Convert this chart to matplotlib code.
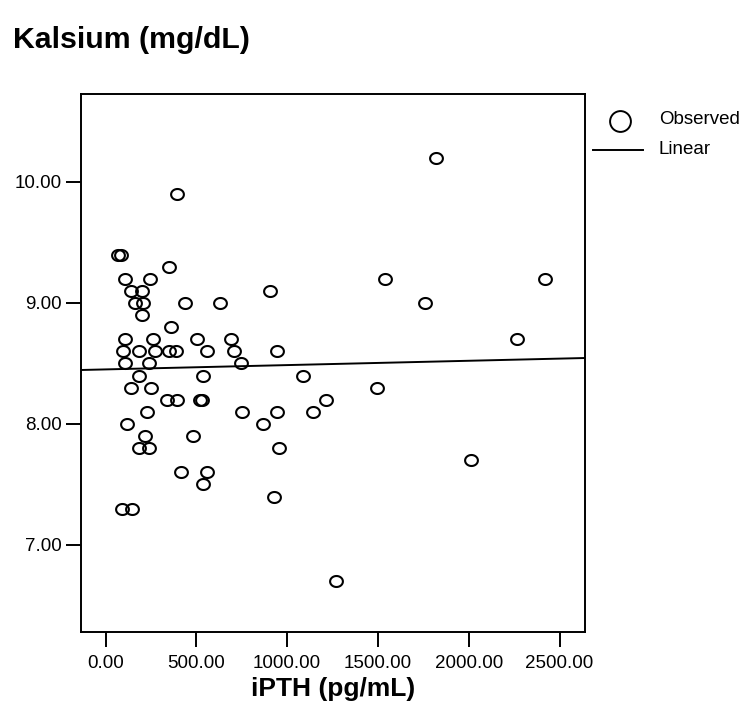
import matplotlib
matplotlib.use("Agg")
import matplotlib.pyplot as plt
from matplotlib.lines import Line2D
from matplotlib.path import Path
import numpy as np

plt.rcParams['font.family'] = ['Liberation Sans', 'DejaVu Sans']

# Observed data: iPTH (pg/mL) and Kalsium (mg/dL)
ipth = [68, 86, 396, 1822, 349,
        108, 246, 1540, 2421,
        141, 200, 905,
        160, 209, 439, 628, 1760,
        202, 362,
        108, 264, 505, 692, 2267,
        95, 187, 275, 352, 389, 560, 710, 942,
        108, 239, 747,
        182, 536, 1087,
        141, 253, 1494,
        338, 395, 521, 530, 1215,
        231, 751, 942, 1142,
        116, 868,
        215, 483,
        187, 242, 954,
        2014,
        417, 560,
        538, 925,
        88, 145,
        1270]
kalsium = [9.4, 9.4, 9.9, 10.2, 9.3,
           9.2, 9.2, 9.2, 9.2,
           9.1, 9.1, 9.1,
           9.0, 9.0, 9.0, 9.0, 9.0,
           8.9, 8.8,
           8.7, 8.7, 8.7, 8.7, 8.7,
           8.6, 8.6, 8.6, 8.6, 8.6, 8.6, 8.6, 8.6,
           8.5, 8.5, 8.5,
           8.4, 8.4, 8.4,
           8.3, 8.3, 8.3,
           8.2, 8.2, 8.2, 8.2, 8.2,
           8.1, 8.1, 8.1, 8.1,
           8.0, 8.0,
           7.9, 7.9,
           7.8, 7.8, 7.8,
           7.7,
           7.6, 7.6,
           7.5, 7.4,
           7.3, 7.3,
           6.7]

# Linear fit
fit_intercept = 8.451
fit_slope = 0.0000357

xticks = [0, 500, 1000, 1500, 2000, 2500]
yticks = [7, 8, 9, 10]
xlim = (-135, 2640)
ylim = (6.281, 10.727)

# Elliptical marker (slightly wider than tall)
_t = np.linspace(0, 2 * np.pi, 60)
ellipse_marker = Path(np.column_stack([np.cos(_t), 0.86 * np.sin(_t)]), closed=True)

W, H = 746, 712
fig = plt.figure(figsize=(W / 100, H / 100), dpi=100)
ax = fig.add_axes([81 / W, 1 - 632 / H, (585 - 81) / W, (632 - 94) / H])

ax.plot(ipth, kalsium, linestyle='none', marker=ellipse_marker, markersize=9.2,
        markerfacecolor='none', markeredgecolor='black', markeredgewidth=1.5)

lx = np.array(xlim)
ax.plot(lx, fit_intercept + fit_slope * lx, color='black', linewidth=1.4)

ax.set_xlim(*xlim)
ax.set_ylim(*ylim)
ax.set_xticks(xticks)
ax.set_xticklabels([f"{v:.2f}" for v in xticks])
ax.set_yticks(yticks)
ax.set_yticklabels([f"{v:.2f}" for v in yticks])
ax.tick_params(axis='both', direction='out', length=10.5, width=1.4,
               labelsize=13.5, colors='black')
ax.tick_params(axis='x', pad=6)
ax.tick_params(axis='y', pad=3)
for s in ax.spines.values():
    s.set_linewidth(1.4)

ax.set_xlabel("iPTH (pg/mL)", fontsize=19, fontweight='bold', labelpad=4)
fig.text(13 / W, 1 - 40 / H, "Kalsium (mg/dL)", fontsize=21.8,
         fontweight='bold', ha='left', va='center')

# Legend drawn in figure pixel coords
fig.add_artist(Line2D([620 / W], [1 - 121 / H], marker='o', markersize=15,
                      markerfacecolor='none', markeredgecolor='black',
                      markeredgewidth=1.4, linestyle='none',
                      transform=fig.transFigure))
fig.text(659 / W, 1 - 120 / H, "Observed", fontsize=13.5, ha='left', va='center')
fig.add_artist(Line2D([593 / W, 643 / W], [1 - 150 / H, 1 - 150 / H],
                      color='black', linewidth=1.4, transform=fig.transFigure))
fig.text(659 / W, 1 - 150 / H, "Linear", fontsize=13.5, ha='left', va='center')

fig.savefig("out.png", dpi=100)
